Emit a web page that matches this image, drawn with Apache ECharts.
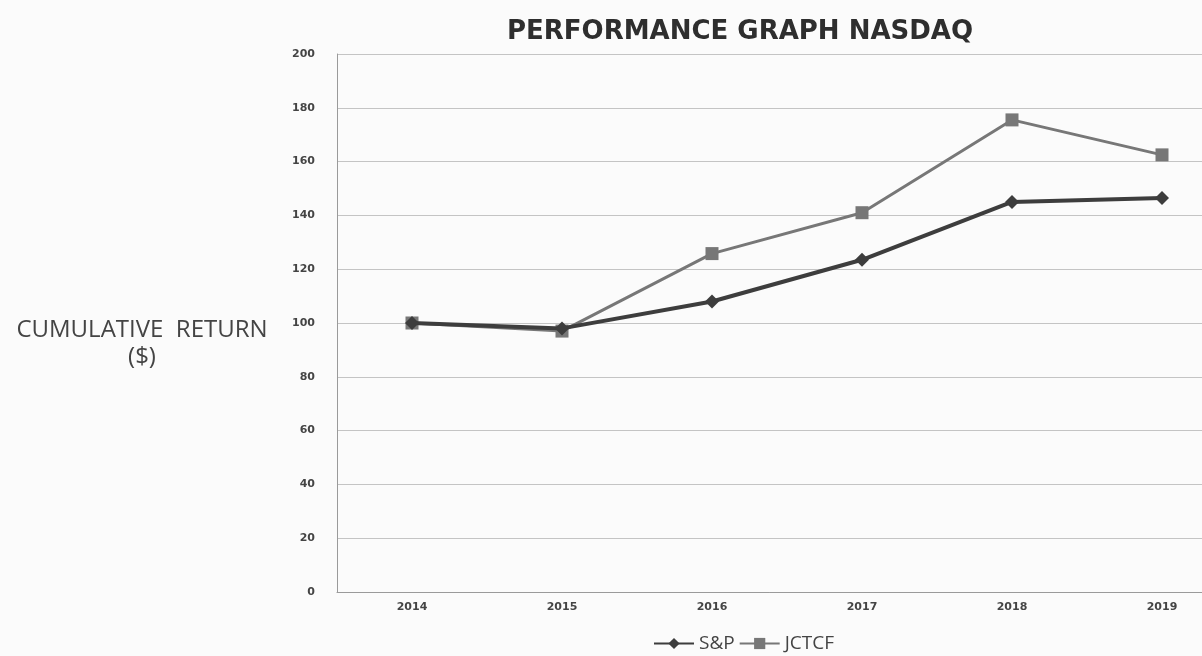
<!DOCTYPE html>
<html>
<head>
<meta charset="utf-8">
<script src="https://cdn.jsdelivr.net/npm/echarts@6/dist/echarts.min.js"></script>
<style>html,body{margin:0;padding:0;background:#fbfbfb;}#c{width:1202px;height:656px;}</style>
</head>
<body>
<div id="c"></div>
<script>
const years = ['2014', '2015', '2016', '2017', '2018', '2019'];
const spValues = [100, 98, 108, 123.5, 145, 146.5];
const jctcfValues = [100, 97, 125.8, 141, 175.5, 162.5];
const yTicks = { min: 0, max: 200, interval: 20 };

const chart = echarts.init(document.getElementById('c'));
chart.setOption({
  backgroundColor: '#fbfbfb',
  animation: false,
  title: {
    text: 'PERFORMANCE GRAPH NASDAQ',
    left: 735,
    top: 14,
    textAlign: 'center',
    textStyle: { fontFamily: 'DejaVu Sans', fontWeight: 'bold', fontSize: 26, color: '#2e2e2e' }
  },
  graphic: [{
    type: 'text',
    x: 142,
    y: 344,
    style: {
      text: 'CUMULATIVE  RETURN\n($)',
      align: 'center',
      verticalAlign: 'middle',
      fontFamily: 'Open Sans',
      fontSize: 24,
      lineHeight: 27,
      fill: '#444'
    }
  }],
  legend: {
    bottom: -2,
    left: 648,
    itemWidth: 40,
    itemHeight: 14,
    itemGap: 4,
    textStyle: { fontFamily: 'Open Sans', fontSize: 19, color: '#444' },
    data: ['S&P', 'JCTCF']
  },
  grid: { left: 337, right: -35, top: 54, bottom: 64, outerBoundsMode: 'none', containLabel: false },
  xAxis: {
    type: 'category',
    data: years,
    boundaryGap: true,
    axisLine: { lineStyle: { color: '#9a9a9a', width: 1 } },
    axisTick: { show: false },
    axisLabel: { fontFamily: 'DejaVu Sans', fontWeight: 'bold', fontSize: 11, color: '#444', margin: 10 }
  },
  yAxis: {
    type: 'value',
    min: yTicks.min,
    max: yTicks.max,
    interval: yTicks.interval,
    axisLine: { show: true, lineStyle: { color: '#9a9a9a', width: 1 } },
    axisTick: { show: false },
    axisLabel: { fontFamily: 'DejaVu Sans', fontWeight: 'bold', fontSize: 11, color: '#444', margin: 22 },
    splitLine: { lineStyle: { color: '#c4c4c4', width: 1 } }
  },
  series: [
    {
      name: 'S&P',
      type: 'line',
      data: spValues,
      symbol: 'diamond',
      symbolSize: 14,
      z: 3,
      itemStyle: { color: '#3d3d3d' },
      lineStyle: { color: '#3d3d3d', width: 4 }
    },
    {
      name: 'JCTCF',
      type: 'line',
      data: jctcfValues,
      symbol: 'rect',
      symbolSize: 13,
      z: 2,
      itemStyle: { color: '#777' },
      lineStyle: { color: '#777', width: 3 }
    }
  ]
});
</script>
</body>
</html>
